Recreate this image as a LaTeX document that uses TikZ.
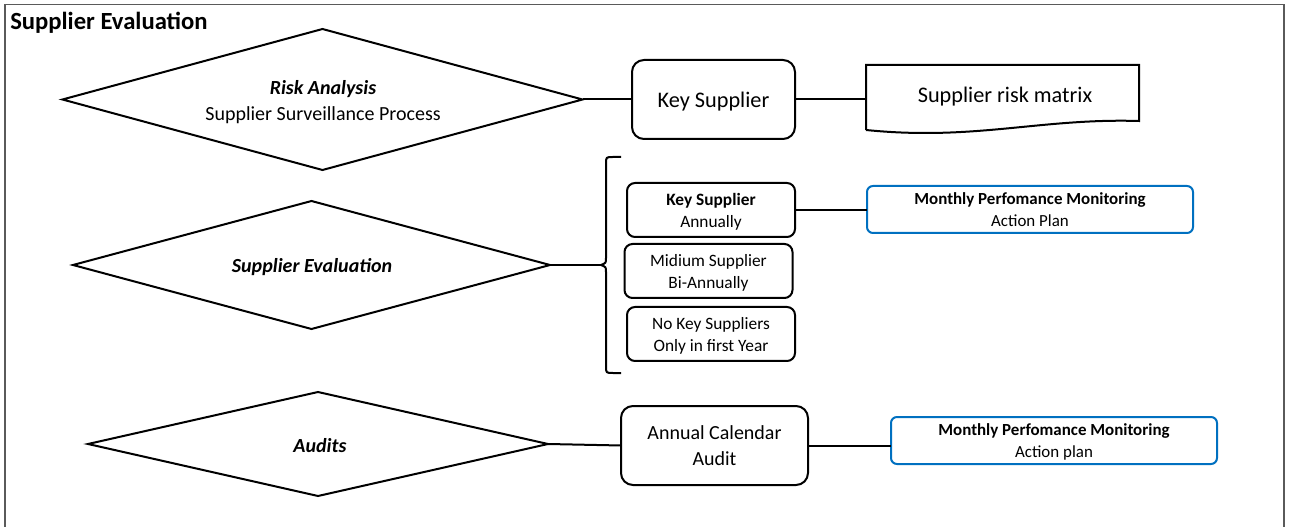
\documentclass[tikz,border=0pt]{standalone}
\usepackage{fontspec}
\setmainfont{Carlito}
\usetikzlibrary{shapes.geometric}
\definecolor{frameg}{RGB}{90,90,90}
\definecolor{bluebd}{RGB}{0,112,192}
\tikzset{
  dia/.style={draw, line width=1.5pt, shape=diamond, inner sep=0pt, outer sep=0pt},
  diatext/.style={align=center, inner sep=0pt, font=\fontsize{15}{19}\selectfont},
  bigbox/.style={draw, line width=1.5pt, rounded corners=9pt, inner sep=0pt, outer sep=0pt, align=center, minimum width=122.25pt, minimum height=59.25pt, text depth=0pt},
  smallbox/.style={draw, line width=1.5pt, rounded corners=6pt, inner sep=0pt, outer sep=0pt, align=center, minimum width=126pt, minimum height=40.5pt, font=\fontsize{13}{16.5}\selectfont, text depth=0pt},
  bluebox/.style={draw=bluebd, line width=1.5pt, rounded corners=4.5pt, inner sep=0pt, outer sep=0pt, align=center, minimum width=244.5pt, minimum height=35.25pt, font=\fontsize{12.7}{16.5}\selectfont, text depth=0pt},
  conn/.style={line width=1.5pt}
}
\begin{document}
\begin{tikzpicture}[x=0.75pt,y=-0.75pt]
\useasboundingbox (0,0) rectangle (1289,527);
\draw[frameg, line width=0.9pt] (5,530) -- (5,4.5) -- (1284,4.5) -- (1284,530);
\node[anchor=west, font=\fontsize{18.5}{22}\selectfont\bfseries, inner sep=0pt] (title) at (10,23) {Supplier Evaluation};

% row 1
\node[dia, minimum width=390pt, minimum height=105.75pt] (d1) at (322.5,99.5) {};
\node[diatext] (d1t) at (323,102) {\textbf{\textit{Risk Analysis}}\\Supplier Surveillance Process};
\node[bigbox, font=\fontsize{16.7}{20}\selectfont] (ks) at (713.5,99.5) {Key Supplier};
\node[minimum width=204.75pt, minimum height=48.75pt, inner sep=0pt, outer sep=0pt] (doc) at (1002.5,97.5) {};
\node[font=\fontsize{16.7}{20}\selectfont, inner sep=0pt] (doct) at (1005,97) {Supplier risk matrix};
\draw[line width=1.5pt] (doc.south west) -- (doc.north west) -- (doc.north east) -- ([yshift=6.75pt]doc.south east)
  .. controls (1040,118) and (975,141) .. (doc.south west);
\draw[conn] (d1.east) -- (ks.west);
\draw[conn] (ks.east) -- (ks.east -| doc.west);

% row 2
\node[dia, minimum width=357.75pt, minimum height=96pt] (d2) at (311.5,265) {};
\node[diatext] (d2t) at (312,267.5) {\textbf{\textit{Supplier Evaluation}}};
\coordinate (btip) at (601,265);
\draw[line width=1.5pt] (621,157) -- (613,157) .. controls (606,157) .. (606,164) -- (606,258) .. controls (606,263) .. (btip)
  .. controls (606,267) .. (606,272) -- (606,366) .. controls (606,373) .. (613,373) -- (621,373);
\draw[conn] (d2.east) -- (btip);
\node[smallbox] (ba) at (711,210) {\textbf{Key Supplier}\\Annually};
\node[smallbox] (bb) at (708.5,271) {Midium Supplier\\Bi-Annually};
\node[smallbox] (bc) at (711,334) {No Key Suppliers\\Only in first Year};
\node[bluebox] (bl1) at (1030,209.5) {\textbf{Monthly Perfomance Monitoring}\\Action Plan};
\draw[conn] (ba.east) -- (ba.east -| bl1.west);

% row 3
\node[dia, minimum width=345pt, minimum height=78pt] (d3) at (318,444) {};
\node[diatext] (d3t) at (320,446) {\textbf{\textit{Audits}}};
\node[bigbox, minimum width=140.25pt, font=\fontsize{15}{19}\selectfont] (bd) at (714.5,445.5) {Annual Calendar\\Audit};
\node[bluebox] (bl2) at (1054,440.5) {\textbf{Monthly Perfomance Monitoring}\\Action plan};
\draw[conn] (d3.east) -- (bd.west);
\draw[conn] (bd.east) -- (bd.east -| bl2.west);
\end{tikzpicture}
\end{document}
